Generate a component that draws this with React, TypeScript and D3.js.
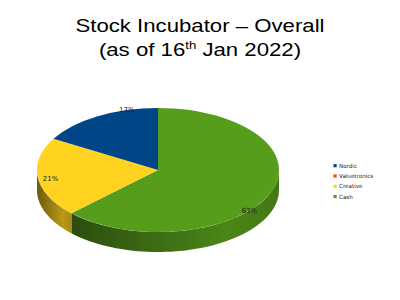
import React from "react";
import * as d3 from "d3";

const categories = ["Nordic", "Valuetronics", "Creative", "Cash"];
const values = [16.6, 0, 20.7, 62.7];
const colors = ["#004586", "#ff420e", "#ffd320", "#579d1c"];
const titleLine1 = "Stock Incubator – Overall";
const titleLine2a = "(as of 16";
const titleSup = "th";
const titleLine2b = " Jan 2022)";

const W = 400;
const H = 300;
const cx = 158;
const cy = 170;
const rx = 121;
const ry = 62;
const depth = 20;

// label placement along each slice (fraction of slice span, radial factor)
const labelPlace: Record<string, { frac: number; k: number }> = {
  Cash: { frac: 0.58, k: 1.0 },
  Creative: { frac: 0.47, k: 0.9 },
  Nordic: { frac: 0.75, k: 1.0 },
};

const sideShade: Record<string, [number, number]> = {
  Cash: [2.0, 0.45],
  Creative: [2.4, 0.9],
  Nordic: [2.0, 0.6],
  Valuetronics: [2.0, 0.6],
};

function pt(a: number, k = 1, dy = 0): [number, number] {
  return [cx + rx * k * Math.sin(a), cy - ry * k * Math.cos(a) + dy];
}

export default function App() {
  // pie drawn clockwise from 12 o'clock: Cash, Creative, Valuetronics, Nordic
  const order = [3, 2, 1, 0];
  const pieData = order.map((i) => ({ name: categories[i], value: values[i], color: colors[i] }));
  const arcs = d3
    .pie<any>()
    .sort(null)
    .value((d: any) => d.value)
    .startAngle(0)
    .endAngle(2 * Math.PI)(pieData);

  const arcGen = d3.arc<any>().innerRadius(0).outerRadius(rx);
  const line = d3.line();
  const total = d3.sum(values);

  const sides = arcs
    .map((a, i) => {
      const s = Math.max(a.startAngle, Math.PI / 2);
      const e = Math.min(a.endAngle, (3 * Math.PI) / 2);
      if (e <= s) return null;
      const n = 60;
      const top: [number, number][] = d3.range(n + 1).map((j) => pt(s + ((e - s) * j) / n));
      const bot: [number, number][] = d3.range(n + 1).map((j) => pt(e - ((e - s) * j) / n, 1, depth));
      return { d: line([...top, ...bot]) + "Z", data: a.data, id: i };
    })
    .filter(Boolean) as any[];

  const fmt = d3.format(".0%");

  return (
    <svg width={W} height={H} style={{ position: "absolute", left: 0, top: 0, background: "#fff" }}>
      <defs>
        {sides.map((s) => {
          const c = d3.color(s.data.color)!;
          const [d0, d1] = sideShade[s.data.name];
          return (
            <linearGradient key={s.id} id={`side${s.id}`} x1="0" y1="0" x2="1" y2="0">
              <stop offset="0" stopColor={c.darker(d0).formatHex()} />
              <stop offset="0.75" stopColor={c.darker(d1).formatHex()} />
              <stop offset="1" stopColor={c.darker(d1 + 0.3).formatHex()} />
            </linearGradient>
          );
        })}
      </defs>
      <rect x={0} y={0} width={W} height={H} fill="#fff" />
      <g fontFamily="Liberation Sans, Arial, sans-serif" fill="#000" textAnchor="middle">
        <text x={200} y={32.3} fontSize={18.5} transform="translate(200,0) scale(1.2,1) translate(-200,0)">
          {titleLine1}
        </text>
        <text x={200} y={55.7} fontSize={18.5} transform="translate(200,0) scale(1.2,1) translate(-200,0)">
          {titleLine2a}
          <tspan fontSize={11} dy={-7}>{titleSup}</tspan>
          <tspan dy={7}>{titleLine2b}</tspan>
        </text>
      </g>
      {sides.map((s) => (
        <path key={s.id} d={s.d} fill={`url(#side${s.id})`} />
      ))}
      <g transform={`translate(${cx},${cy}) scale(1,${ry / rx})`}>
        {arcs.map((a, i) =>
          a.endAngle > a.startAngle ? <path key={i} d={arcGen(a) as string} fill={a.data.color} /> : null
        )}
      </g>
      <g fontFamily="DejaVu Sans, sans-serif" fontSize={7} fill="#1a1a1a" textAnchor="middle">
        {arcs.map((a, i) => {
          const lp = labelPlace[a.data.name];
          if (!lp || a.data.value === 0) return null;
          const ang = a.startAngle + (a.endAngle - a.startAngle) * lp.frac;
          const [x, y] = pt(ang, lp.k);
          return (
            <text key={i} x={x} y={y} dominantBaseline="central">
              {fmt(a.data.value / total)}
            </text>
          );
        })}
      </g>
      <g fontFamily="DejaVu Sans, sans-serif" fontSize={5.6} fill="#222">
        {categories.map((c, i) => {
          const y = 165.7 + i * 10.3;
          return (
            <g key={c}>
              <rect x={333.5} y={y - 1.6} width={3.2} height={3.2} fill={colors[i]} />
              <text x={339} y={y} dominantBaseline="central">
                {c}
              </text>
            </g>
          );
        })}
      </g>
    </svg>
  );
}
